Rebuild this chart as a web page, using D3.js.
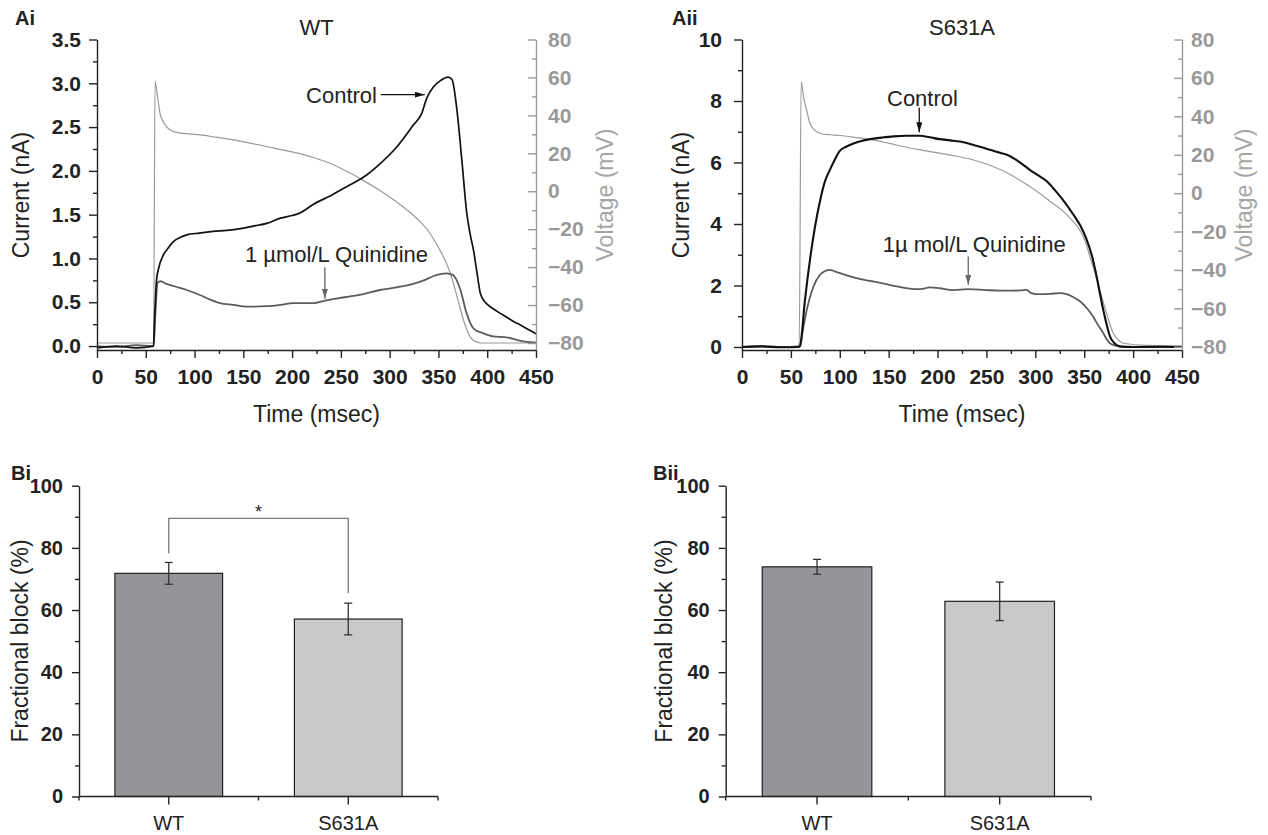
<!DOCTYPE html>
<html>
<head>
<meta charset="utf-8">
<script src="https://cdn.jsdelivr.net/npm/d3@7"></script>
<style>
  body { margin: 0; background: #fff; }
  text { font-family: "Liberation Sans", Arial, Helvetica, sans-serif; }
</style>
</head>
<body>
<div id="chart"></div>
<script>
// ---- Data ----
// time (msec), current (nA) / voltage (mV)
const wtControl = [[0,-0.02],[20,0.0],[40,-0.02],[58,0.0],[59,0.3],[61,0.75],[63,0.88],[68,1.04],[73,1.12],[78,1.19],[85,1.24],[92,1.27],[105,1.29],[119,1.31],[133,1.32],[147,1.34],[160,1.37],[174,1.40],[188,1.46],[200,1.49],[208,1.52],[222,1.62],[240,1.72],[256,1.82],[276,1.95],[290,2.08],[307,2.27],[324,2.52],[333,2.66],[338,2.83],[345,2.96],[352,3.03],[360,3.07],[364,3.04],[369,2.69],[374,2.12],[379,1.52],[383,1.25],[386,1.09],[390,0.80],[393,0.60],[398,0.50],[403,0.45],[411,0.39],[420,0.33],[427,0.28],[434,0.24],[442,0.19],[450,0.14]];
const wtQuinidine = [[0,0.0],[20,-0.01],[40,0.01],[58,0.0],[60,0.4],[62,0.72],[65,0.74],[71,0.71],[80,0.68],[92,0.64],[106,0.58],[116,0.53],[126,0.49],[140,0.47],[153,0.45],[174,0.455],[188,0.47],[201,0.49],[222,0.49],[234,0.52],[256,0.56],[275,0.60],[290,0.64],[307,0.67],[324,0.71],[335,0.75],[345,0.80],[358,0.83],[365,0.81],[372,0.66],[379,0.37],[386,0.20],[396,0.145],[406,0.11],[420,0.10],[434,0.06],[450,0.04]];
const wtVoltage = [[0,-80],[58,-80],[59.5,58],[62,50],[64.6,41],[68,36.5],[71.4,34],[76,32],[81.6,31],[95,30.2],[105.6,29.7],[122,28.5],[140,27.1],[157,25.4],[174,23.6],[190,21.8],[208,19.8],[222,17.8],[240,14.5],[256,10.5],[272,6],[288,1],[300,-3],[312,-7.5],[324,-12.5],[334,-17.5],[341,-22],[348,-27.8],[355,-34.5],[362,-43],[369,-55.4],[375.5,-67.6],[382,-76.4],[388,-79.3],[395,-80],[450,-80]];

const mutControl = [[0,0.0],[20,0.02],[40,-0.01],[58,0.0],[59.5,0.05],[64.4,1.53],[69.5,2.83],[74.7,3.92],[79.8,4.75],[85,5.4],[90,5.77],[95,6.1],[100,6.38],[107,6.52],[114,6.62],[122,6.7],[131,6.76],[143,6.81],[155,6.85],[168,6.87],[182,6.87],[192,6.82],[202,6.76],[213,6.72],[223,6.68],[236,6.58],[250,6.45],[262,6.33],[271,6.25],[283,6.03],[294,5.77],[303,5.58],[312,5.38],[320,5.1],[328,4.79],[339,4.3],[346,3.95],[352.5,3.49],[358,2.95],[362.7,2.29],[366,1.75],[369.5,1.2],[373,0.72],[376.4,0.34],[381,0.12],[386.6,0.02],[400,0.0],[425,0.01],[450,0.0]];
const mutQuinidine = [[0,0.0],[20,0.03],[40,0.0],[58,0.02],[59.5,0.05],[62,0.5],[66.2,1.2],[73,1.96],[79.8,2.35],[85,2.47],[90,2.51],[95,2.46],[100.2,2.4],[108,2.32],[117,2.24],[125,2.18],[134,2.13],[144,2.07],[155,1.99],[166,1.92],[179,1.88],[186,1.9],[192,1.94],[202,1.91],[216,1.85],[231,1.88],[250,1.85],[271,1.83],[285,1.84],[291,1.86],[296,1.75],[301,1.72],[315,1.73],[325,1.75],[332,1.72],[339,1.62],[346,1.48],[353,1.25],[359,0.99],[364,0.72],[369.5,0.45],[373,0.25],[376.4,0.12],[382,0.04],[390,0.0],[450,0.0]];
const mutVoltage = [[0,-80],[58.5,-80],[60.5,58],[63,50],[66.2,43],[69,37],[73,33.4],[77,31.8],[81.5,30.9],[90,30.4],[100,30],[117,28.9],[134,27.7],[150,26],[168,23.9],[185,22.3],[202,20.8],[220,19.2],[236,17.4],[254,14.4],[271,10.6],[288,5.5],[305,-0.3],[317,-5],[328.6,-9.5],[337,-13.8],[345.7,-19.4],[351,-25],[355.9,-33.2],[361,-41.5],[366,-50.5],[372.9,-62.7],[379.7,-73],[385,-76.5],[390,-78.2],[407,-79.1],[450,-79.5]];

const timeTicks = [0, 50, 100, 150, 200, 250, 300, 350, 400, 450];
const voltTicks = [-80, -60, -40, -20, 0, 20, 40, 60, 80];
const wtCurrentTicks = [0, 0.5, 1.0, 1.5, 2.0, 2.5, 3.0, 3.5];
const mutCurrentTicks = [0, 2, 4, 6, 8, 10];

const groups = ['WT', 'S631A'];
const blockBi = [71.8, 57.1];
const errBi = [3.5, 5.1];
const blockBii = [73.9, 62.8];
const errBii = [2.4, 6.2];
const blockTicks = [0, 20, 40, 60, 80, 100];

const COLORS = {
  axis: '#222',
  text: '#222',
  control: '#111',
  quinidine: '#5c5c5c',
  voltage: '#9a9a9a',
  rightAxis: '#999',
  bars: ['#939598', '#c8c9cb'],
  bracket: '#7a7a7a'
};

const svg = d3.select('#chart').append('svg')
  .attr('width', 1268)
  .attr('height', 835)
  .style('background-color', '#fff');

const defs = svg.append('defs');
for (let [id, color] of [['arrowBlack', COLORS.control], ['arrowGray', '#666']]) {
  defs.append('marker')
    .attr('id', id)
    .attr('viewBox', '0 0 10 6')
    .attr('refX', 10)
    .attr('refY', 3)
    .attr('markerWidth', 10)
    .attr('markerHeight', 6)
    .attr('markerUnits', 'userSpaceOnUse')
    .attr('orient', 'auto')
    .append('path')
      .attr('d', 'M0,0 L10,3 L0,6 Z')
      .style('fill', color);
}

function styleAxis(g, color, fontSize, bold) {
  g.select('.domain').style('stroke', color).style('stroke-width', 1.4);
  g.selectAll('.tick line').style('stroke', color).style('stroke-width', 1.4);
  g.selectAll('.tick text')
    .style('fill', color)
    .style('font-family', '"Liberation Sans", Arial, sans-serif')
    .style('font-size', fontSize + 'px')
    .style('font-weight', bold ? 'bold' : 'normal');
}

function minorTicks(major) {
  let out = [];
  for (let i = 0; i < major.length - 1; i++) out.push((major[i] + major[i + 1]) / 2);
  return out;
}

function label(x, y, text, opts = {}) {
  return svg.append('text')
    .text(text)
    .attr('x', x)
    .attr('y', y)
    .attr('text-anchor', opts.anchor || 'start')
    .attr('transform', opts.rotate ? `rotate(-90,${x},${y})` : null)
    .style('fill', opts.color || COLORS.text)
    .style('font-size', (opts.size || 22) + 'px')
    .style('font-weight', opts.bold ? 'bold' : 'normal');
}

// ---- Current traces (Ai, Aii) ----
function drawTraces(p) {
  const x = d3.scaleLinear().domain([0, 450]).range([p.left, p.right]);
  const y = d3.scaleLinear().domain(p.currentDomain).range([350, 39.5]);
  const yv = d3.scaleLinear().domain(p.voltDomain).range([350, 39.5]);

  const line = d3.line().x(d => x(d[0])).y(d => y(d[1])).curve(d3.curveMonotoneX);
  const vline = d3.line().x(d => x(d[0])).y(d => yv(d[1])).curve(d3.curveMonotoneX);

  svg.append('path').datum(p.voltage).attr('d', vline)
    .style('fill', 'none').style('stroke', COLORS.voltage).style('stroke-width', 1.2);
  svg.append('path').datum(p.quinidine).attr('d', line)
    .style('fill', 'none').style('stroke', COLORS.quinidine).style('stroke-width', 1.8);
  svg.append('path').datum(p.control).attr('d', line)
    .style('fill', 'none').style('stroke', COLORS.control).style('stroke-width', p.controlWidth);

  // x axis
  svg.append('g').attr('transform', 'translate(0,350)')
    .call(d3.axisBottom(x).tickValues(minorTicks(timeTicks)).tickSize(4).tickFormat(''))
    .call(g => g.select('.domain').remove())
    .call(g => styleAxis(g, COLORS.axis, 21, true));
  svg.append('g').attr('transform', 'translate(0,350)')
    .call(d3.axisBottom(x).tickValues(timeTicks).tickSize(8).tickSizeOuter(0).tickPadding(11).tickFormat(d3.format('d')))
    .call(g => styleAxis(g, COLORS.axis, 21, true));

  // left axis
  svg.append('g').attr('transform', `translate(${p.left},0)`)
    .call(d3.axisLeft(y).tickValues(minorTicks(p.currentTicks)).tickSize(4).tickFormat(''))
    .call(g => g.select('.domain').remove())
    .call(g => styleAxis(g, COLORS.axis, 21, true));
  svg.append('g').attr('transform', `translate(${p.left},0)`)
    .call(d3.axisLeft(y).tickValues(p.currentTicks).tickSize(8).tickSizeOuter(0).tickPadding(p.leftPad).tickFormat(p.currentFormat))
    .call(g => styleAxis(g, COLORS.axis, 21, true));

  // right (voltage) axis, ticks pointing inward
  svg.append('g').attr('transform', `translate(${p.right},0)`)
    .call(d3.axisRight(yv).tickValues(minorTicks(voltTicks)).tickSize(-4).tickFormat(''))
    .call(g => g.select('.domain').remove())
    .call(g => styleAxis(g, COLORS.rightAxis, 21, true));
  svg.append('g').attr('transform', `translate(${p.right},0)`)
    .call(d3.axisRight(yv).tickValues(voltTicks).tickSize(-8).tickSizeOuter(0).tickPadding(p.rightPad).tickFormat(d3.format('d')))
    .call(g => styleAxis(g, COLORS.rightAxis, 21, true));

  // titles
  label((p.left + p.right) / 2, 35, p.title, { anchor: 'middle' });
  label(p.panelX, 25, p.panel, { bold: true, size: 20 });
  label((p.left + p.right) / 2, 422, 'Time (msec)', { anchor: 'middle', size: 23 });
  label(p.yTitleX, 195, 'Current (nA)', { anchor: 'middle', rotate: true, size: 23 });
  label(p.vTitleX, 195, 'Voltage (mV)', { anchor: 'middle', rotate: true, size: 23, color: '#a5a5a5' });

  // annotations (data coordinates)
  for (let a of p.notes) {
    label(x(a.text[0]), y(a.text[1]), a.label, { anchor: a.anchor, size: 22 });
    svg.append('line')
      .attr('x1', x(a.from[0])).attr('y1', y(a.from[1]))
      .attr('x2', x(a.to[0])).attr('y2', y(a.to[1]))
      .style('stroke', a.gray ? '#666' : COLORS.control)
      .style('stroke-width', 1.3)
      .attr('marker-end', `url(#${a.gray ? 'arrowGray' : 'arrowBlack'})`);
  }
}

drawTraces({
  panel: 'Ai', panelX: 15, title: 'WT',
  left: 97, right: 536,
  currentDomain: [-0.045, 3.5], voltDomain: [-83.7, 80],
  currentTicks: wtCurrentTicks, currentFormat: d3.format('.1f'),
  leftPad: 8, rightPad: 12,
  yTitleX: 29, vTitleX: 613,
  control: wtControl, quinidine: wtQuinidine, voltage: wtVoltage, controlWidth: 1.7,
  notes: [
    { label: 'Control', anchor: 'end', text: [287, 2.78], from: [291, 2.87], to: [336, 2.87] },
    { label: '1 µmol/L Quinidine', anchor: 'start', text: [151.7, 0.96], from: [233.6, 0.90], to: [233.6, 0.54], gray: true }
  ]
});

drawTraces({
  panel: 'Aii', panelX: 672, title: 'S631A',
  left: 742, right: 1182,
  currentDomain: [-0.098, 10], voltDomain: [-81.7, 80],
  currentTicks: mutCurrentTicks, currentFormat: d3.format('d'),
  leftPad: 12, rightPad: 9,
  yTitleX: 689, vTitleX: 1252,
  control: mutControl, quinidine: mutQuinidine, voltage: mutVoltage, controlWidth: 2.1,
  notes: [
    { label: 'Control', anchor: 'start', text: [148.3, 7.83], from: [181.3, 7.78], to: [181.3, 6.98] },
    { label: '1µ mol/L Quinidine', anchor: 'start', text: [143.9, 3.10], from: [231.4, 2.94], to: [231.4, 2.02], gray: true }
  ]
});

// ---- Fractional block bars (Bi, Bii) ----
function drawBars(p) {
  const x = d3.scaleBand().domain(groups).range([p.left, p.right]).paddingInner(0.4).paddingOuter(0.2);
  const y = d3.scaleLinear().domain([0, 100]).range([796.5, 485.7]);
  const data = groups.map((g, i) => ({ g, v: p.values[i], e: p.errors[i], c: COLORS.bars[i] }));

  svg.selectAll(null)
      .data(data)
    .enter().append('rect')
      .attr('x', d => x(d.g))
      .attr('y', d => y(d.v))
      .attr('width', x.bandwidth())
      .attr('height', d => y(0) - y(d.v))
      .style('fill', d => d.c)
      .style('stroke', '#222')
      .style('stroke-width', 1.2);

  const cx = d => x(d.g) + x.bandwidth() / 2;
  const err = svg.selectAll(null).data(data).enter().append('g')
    .style('stroke', '#333').style('stroke-width', 1.3);
  err.append('line').attr('x1', cx).attr('x2', cx).attr('y1', d => y(d.v - d.e)).attr('y2', d => y(d.v + d.e));
  err.append('line').attr('x1', d => cx(d) - 4).attr('x2', d => cx(d) + 4).attr('y1', d => y(d.v + d.e)).attr('y2', d => y(d.v + d.e));
  err.append('line').attr('x1', d => cx(d) - 4).attr('x2', d => cx(d) + 4).attr('y1', d => y(d.v - d.e)).attr('y2', d => y(d.v - d.e));

  // y axis
  svg.append('g').attr('transform', `translate(${p.left},0)`)
    .call(d3.axisLeft(y).tickValues(minorTicks(blockTicks)).tickSize(4).tickFormat(''))
    .call(g => g.select('.domain').remove())
    .call(g => styleAxis(g, COLORS.axis, 19, true));
  svg.append('g').attr('transform', `translate(${p.left},0)`)
    .call(d3.axisLeft(y).tickValues(blockTicks).tickSize(7).tickSizeOuter(0).tickPadding(9))
    .call(g => styleAxis(g, COLORS.axis, 20, true));

  // x axis: ticks at group centres plus short ones at band edges
  const edges = [p.left, (p.left + p.right) / 2, p.right];
  svg.append('g').selectAll('line').data(edges).enter().append('line')
    .attr('x1', d => d).attr('x2', d => d).attr('y1', y(0)).attr('y2', y(0) + 4)
    .style('stroke', COLORS.axis).style('stroke-width', 1.4);
  svg.append('g').attr('transform', `translate(0,${y(0)})`)
    .call(d3.axisBottom(x).tickSize(8).tickSizeOuter(0).tickPadding(11))
    .call(g => g.select('.domain').attr('d', `M${p.left},0H${p.right}`))
    .call(g => styleAxis(g, COLORS.axis, 20, false));

  label(p.panelX, 480, p.panel, { bold: true, size: 20 });
  label(p.yTitleX, 641, 'Fractional block (%)', { anchor: 'middle', rotate: true, size: 23 });

  if (p.bracket) {
    const [a, b] = groups.map(g => x(g) + x.bandwidth() / 2);
    svg.append('path')
      .attr('d', `M${a},${y(p.bracket.left)}V${y(p.bracket.top)}H${b}V${y(p.bracket.right)}`)
      .style('fill', 'none').style('stroke', COLORS.bracket).style('stroke-width', 1.3);
    label((a + b) / 2, y(p.bracket.top), '*', { anchor: 'middle', size: 18 });
  }
}

drawBars({
  panel: 'Bi', panelX: 11, left: 79, right: 438, yTitleX: 28,
  values: blockBi, errors: errBi,
  bracket: { top: 89.5, left: 78.2, right: 65.4 }
});
drawBars({
  panel: 'Bii', panelX: 653, left: 725.7, right: 1091, yTitleX: 672,
  values: blockBii, errors: errBii
});
</script>
</body>
</html>
